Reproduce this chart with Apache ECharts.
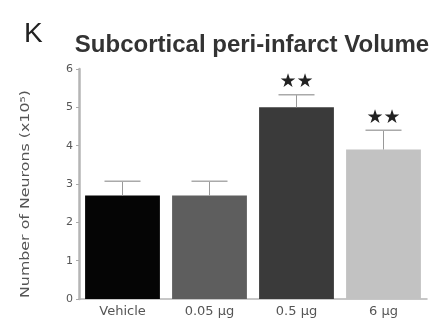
<!DOCTYPE html>
<html><head><meta charset="utf-8">
<script src="https://cdn.jsdelivr.net/npm/echarts@6/dist/echarts.min.js"></script>
<style>html,body{margin:0;padding:0;background:#fff}#c{width:438px;height:322px}</style>
</head><body><div id="c"></div>
<script>
const categories = ['Vehicle', '0.05 μg', '0.5 μg', '6 μg'];
const means = [2.7, 2.7, 5.0, 3.9];
const errors = [0.37, 0.37, 0.33, 0.5];
const significance = ['', '', '★★', '★★'];
const barColors = ['#050505', '#5e5e5e', '#3a3a3a', '#c2c2c2'];
const yTicks = [0, 1, 2, 3, 4, 5, 6];
const yAxisTitle = 'Number of Neurons (x10⁵)';

const chart = echarts.init(document.getElementById('c'), null, {renderer: 'canvas'});
chart.setOption({
  animation: false,
  backgroundColor: '#fff',
  title: [
    {text: 'K', left: 19, top: 15, textStyle: {fontFamily: 'Liberation Sans', fontSize: 28, fontWeight: 'normal', color: '#222'}},
    {text: 'Subcortical peri-infarct Volume', left: 247, textAlign: 'center', top: 28, textStyle: {fontFamily: 'Liberation Sans', fontSize: 24, fontWeight: 'bold', color: '#333'}}
  ],
  graphic: [
    {type: 'text', x: 26, y: 194, rotation: Math.PI / 2, scaleX: 1.32,
     style: {text: yAxisTitle, textAlign: 'center', textVerticalAlign: 'middle', fontFamily: 'DejaVu Sans', fontSize: 12, fill: '#555'}}
  ],
  grid: {left: 79, right: 11, top: 69, bottom: 23, containLabel: false},
  xAxis: {
    type: 'category', data: categories,
    axisLine: {lineStyle: {color: '#b5b5b5', width: 1.5}},
    axisTick: {show: false},
    axisLabel: {fontFamily: 'DejaVu Sans', fontSize: 13, color: '#555', margin: 6}
  },
  yAxis: {
    type: 'value', min: yTicks[0], max: yTicks[yTicks.length - 1], interval: 1,
    axisLine: {show: true, lineStyle: {color: '#b5b5b5', width: 2.5}},
    axisTick: {show: true, length: 3, lineStyle: {color: '#aaa'}},
    splitLine: {show: false},
    axisLabel: {fontFamily: 'DejaVu Sans', fontSize: 11, color: '#555', margin: 6}
  },
  series: [
    {
      type: 'bar', barWidth: '86%',
      data: means.map((v, i) => ({value: v, itemStyle: {color: barColors[i]}})),
      z: 2
    },
    {
      type: 'custom', z: 3,
      data: means.map((v, i) => [i, v, errors[i], significance[i]]),
      renderItem: function (params, api) {
        const x = api.coord([api.value(0), 0])[0];
        const yTop = api.coord([api.value(0), api.value(1)])[1];
        const yCap = api.coord([api.value(0), api.value(1) + api.value(2)])[1];
        const hw = 18;
        const children = [
          {type: 'line', shape: {x1: x, y1: yTop, x2: x, y2: yCap}, style: {stroke: '#999', lineWidth: 1}},
          {type: 'line', shape: {x1: x - hw, y1: yCap, x2: x + hw, y2: yCap}, style: {stroke: '#aaa', lineWidth: 1.5}}
        ];
        const s = significance[params.dataIndex];
        if (s) {
          children.push({type: 'text', style: {text: s, x: x, y: yCap - 3, textAlign: 'center', textVerticalAlign: 'bottom', fontSize: 19, fontFamily: 'DejaVu Sans', fill: '#222'}});
        }
        return {type: 'group', children: children};
      }
    }
  ]
});
</script></body></html>
